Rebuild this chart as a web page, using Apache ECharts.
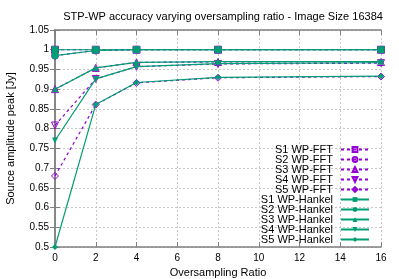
<!DOCTYPE html>
<html><head><meta charset="utf-8">
<script src="https://cdn.jsdelivr.net/npm/echarts@6/dist/echarts.min.js"></script>
<style>html,body{margin:0;padding:0;background:#fff}#c{width:399px;height:279px}</style>
</head><body><div id="c"></div>
<script>
var ratios = [0, 2, 4, 8, 16];
var fftS1 = [1.0, 1.0, 1.0, 1.0, 1.0];
var fftS2 = [0.985, 0.998, 1.0, 1.0, 1.0];
var fftS3 = [0.9, 0.954, 0.968, 0.969, 0.969];
var fftS4 = [0.808, 0.926, 0.957, 0.964, 0.966];
var fftS5 = [0.68, 0.861, 0.916, 0.929, 0.932];
var hanS1 = [1.0, 1.0, 1.0, 1.0, 1.0];
var hanS2 = [0.985, 0.998, 1.0, 1.0, 1.0];
var hanS3 = [0.9, 0.954, 0.968, 0.97, 0.97];
var hanS4 = [0.77, 0.926, 0.957, 0.965, 0.967];
var hanS5 = [0.5, 0.861, 0.917, 0.93, 0.933];
var names = ['S1 WP-FFT','S2 WP-FFT','S3 WP-FFT','S4 WP-FFT','S5 WP-FFT','S1 WP-Hankel','S2 WP-Hankel','S3 WP-Hankel','S4 WP-Hankel','S5 WP-Hankel'];
var allData = [fftS1, fftS2, fftS3, fftS4, fftS5, hanS1, hanS2, hanS3, hanS4, hanS5];
var purple = '#9400d3', green = '#009e73';
var invTri = 'path://M0,0 L10,0 L5,9 Z';
var symFFT = ['rect','circle','triangle',invTri,'diamond'];
var symH = ['rect','circle','triangle',invTri,'diamond'];
var sizeH = [7,7,6,6,6];
var sizeF = [7,7,7,7,7];
var FONT = 'Liberation Sans, Arial, sans-serif';
function pairs(arr){ return ratios.map(function(x,i){ return [x, arr[i]]; }); }
var series = [];
for (var i = 0; i < 10; i++) {
  var isF = i < 5, k = i % 5;
  series.push({
    name: names[i], type: 'line', data: pairs(allData[i]),
    symbol: isF ? symFFT[k] : symH[k],
    symbolSize: isF ? sizeF[k] : sizeH[k],
    lineStyle: { color: isF ? purple : green, width: 1.2, type: isF ? [3,3] : 'solid' },
    itemStyle: isF ? { color: 'rgba(255,255,255,0)', borderColor: purple, borderWidth: 1 } : { color: green, borderWidth: 0 },
    z: isF ? 2 : 3, animation: false
  });
}
var axisLineStyle = { lineStyle: { color: '#808080', width: 1.5 } };
var tickIn = { show: true, inside: true, length: 5, lineStyle: { color: '#808080' } };
var opt = {
  animation: false,
  title: { text: 'STP-WP accuracy varying oversampling ratio - Image Size 16384', left: 218, top: 6, textAlign: 'center',
    textStyle: { fontFamily: FONT, fontSize: 11, fontWeight: 'normal', color: '#000' } },
  grid: { left: 55, right: 18, top: 30, bottom: 32, containLabel: false, outerBoundsMode: 'none' },
  legend: { orient: 'vertical', right: 29, top: 144, padding: 0, align: 'right', itemWidth: 28, itemHeight: 6, itemGap: -1,
    textStyle: { fontFamily: FONT, fontSize: 11, lineHeight: 10, color: '#000', padding: [0, 3, 0, 0] }, data: names },
  xAxis: [
    { type: 'value', min: 0, max: 16, interval: 2, position: 'bottom',
      name: 'Oversampling Ratio', nameLocation: 'middle', nameGap: 20,
      nameTextStyle: { fontFamily: FONT, fontSize: 11, color: '#000' },
      axisLine: axisLineStyle, axisTick: tickIn,
      axisLabel: { fontFamily: FONT, fontSize: 10, color: '#000', margin: 6 },
      splitLine: { show: true, lineStyle: { color: '#c8c8c8', type: [2,2], width: 1 } } },
    { type: 'value', min: 0, max: 16, interval: 2, position: 'top',
      axisLine: axisLineStyle, axisTick: tickIn, axisLabel: { show: false }, splitLine: { show: false } }
  ],
  yAxis: [
    { type: 'value', min: 0.5, max: 1.05, interval: 0.05, position: 'left',
      name: 'Source amplitude peak [Jy]', nameLocation: 'middle', nameGap: 39, nameRotate: 90,
      nameTextStyle: { fontFamily: FONT, fontSize: 11, color: '#000' },
      axisLine: axisLineStyle, axisTick: tickIn,
      axisLabel: { fontFamily: FONT, fontSize: 10, color: '#000', margin: 6,
        formatter: function(v){ return String(parseFloat(v.toFixed(2))); } },
      splitLine: { show: true, lineStyle: { color: '#c8c8c8', type: [2,2], width: 1 } } },
    { type: 'value', min: 0.5, max: 1.05, interval: 0.05, position: 'right',
      axisLine: axisLineStyle, axisTick: tickIn, axisLabel: { show: false }, splitLine: { show: false } }
  ],
  series: series
};
var ch = echarts.init(document.getElementById('c'), null, { renderer: 'canvas' });
ch.setOption(opt);
</script></body></html>
